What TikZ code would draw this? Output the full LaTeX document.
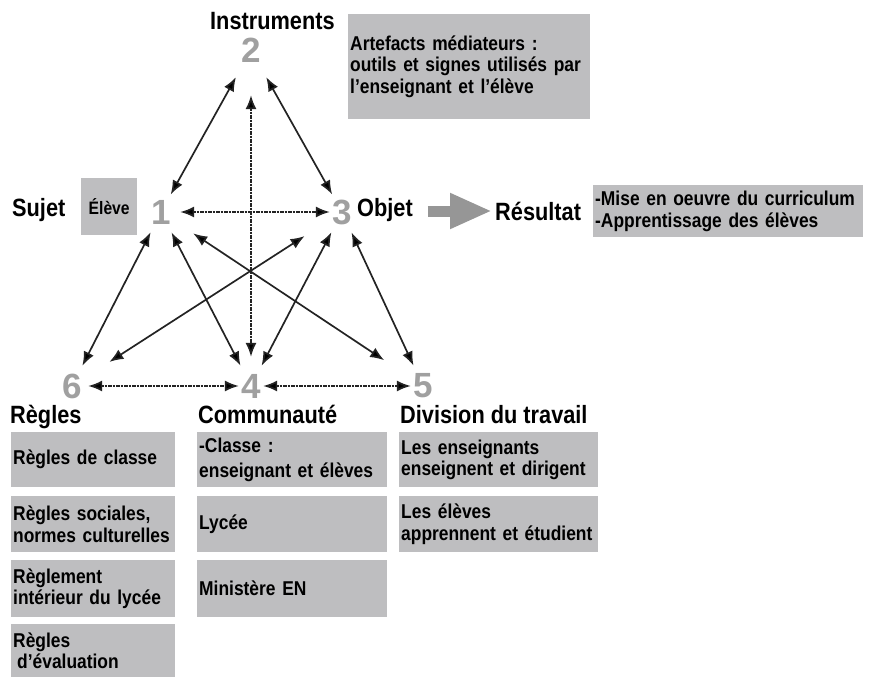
\documentclass[tikz,border=0pt]{standalone}
\usepackage{fontspec}
\setmainfont{Liberation Sans}[FakeStretch=0.87]
\newfontfamily\numfont{Liberation Sans}
\usetikzlibrary{arrows.meta}
\definecolor{boxgray}{RGB}{190,190,192}
\definecolor{numgray}{RGB}{160,160,160}
\definecolor{linegray}{RGB}{35,35,35}
\definecolor{arrowgray}{RGB}{150,150,150}

\begin{document}
\begin{tikzpicture}[x=1pt,y=-1pt,
  num/.style={rectangle, inner sep=0pt, minimum width=24pt, minimum height=26pt,
    text=numgray, font=\numfont\fontsize{35}{35}\selectfont\bfseries},
  title/.style={anchor=base west, inner sep=0pt, font=\fontsize{25}{27}\selectfont\bfseries},
  box/.style={anchor=north west, fill=boxgray, inner xsep=2pt, inner ysep=0pt, align=left,
    font=\fontsize{20}{21.5}\selectfont\bfseries},
  link/.style={draw=linegray, line width=1.7pt, shorten <=8pt, shorten >=8pt,
    {Latex[length=14pt,width=11pt]}-{Latex[length=14pt,width=11pt]}},
  dotlink/.style={link, shorten <=0pt, shorten >=0pt, dash pattern=on 1.2pt off 0.4pt},
  bigarrow/.style={arrowgray, line width=11pt, -{Triangle[length=42pt,width=33pt]}}]
\useasboundingbox (0,0) rectangle (871,677);

% grey boxes
\node[box, text width=238pt, minimum height=105pt] (art) at (348,14)
  {Artefacts médiateurs :\\outils et signes utilisés par\\l’enseignant et l’élève};
\node[box, align=center, text width=52pt, minimum height=57pt,
  font=\fontsize{18}{20}\selectfont\bfseries] (eleve) at (81,178) {Élève\\[6pt]};
\node[box, text width=266pt, minimum height=52pt] (resbox) at (593,185)
  {-Mise en oeuvre du curriculum\\-Apprentissage des élèves};

\node[box, text width=160pt, minimum height=55pt] (r1) at (11,432) {Règles de classe};
\node[box, text width=160pt, minimum height=56pt] (r2) at (11,496) {Règles sociales,\\normes culturelles};
\node[box, text width=160pt, minimum height=57pt] (r3) at (11,560) {Règlement\\intérieur du lycée};
\node[box, text width=160pt, minimum height=53pt] (r4) at (11,624) {Règles\\\hspace*{4pt}d’évaluation};

\node[box, text width=186pt, minimum height=55pt] (c1) at (197,432) {-Classe :\\[3pt]enseignant et élèves};
\node[box, text width=186pt, minimum height=56pt] (c2) at (197,496) {Lycée};
\node[box, text width=186pt, minimum height=57pt] (c3) at (197,560) {Ministère EN};

\node[box, text width=195pt, minimum height=55pt] (d1) at (399,432) {Les enseignants\\enseignent et dirigent};
\node[box, text width=195pt, minimum height=56pt] (d2) at (399,496) {Les élèves\\apprennent et étudient};

% titles
\node[title] (instr) at (210,30) {Instruments};
\node[title] (sujet) at (12,216) {Sujet};
\node[title] (objet) at (357,216) {Objet};
\node[title] (result) at (495,220) {Résultat};
\node[title] (regles) at (10,423) {Règles};
\node[title] (commu) at (198,423) {Communauté};
\node[title] (divis) at (400,423) {Division du travail};

% poles
\node[num] (n2) at (251,50) {2};
\node[num] (n1) at (161,212) {1};
\node[num] (n3) at (342,212) {3};
\node[num] (n6) at (72,386) {6};
\node[num] (n4) at (251,386) {4};
\node[num] (n5) at (423,386) {5};

\draw[link]
  (n2) edge[shorten <=16pt, shorten >=5pt] (n1)
  (n2) edge[shorten <=16pt, shorten >=5pt] (n3)
  (n1) edge (n6)
  (n1) edge (n4)
  (n1) edge[shorten <=24pt, shorten >=32pt] (n5)
  (n3) edge[shorten <=30pt, shorten >=30pt] (n6)
  (n3) edge (n4)
  (n3) edge (n5);
\draw[dotlink]
  (n2) edge[shorten <=32pt, shorten >=16pt] (n4)
  (n1) edge[shorten <=7pt] (n3)
  (n6) edge[shorten <=4pt] (n4)
  (n4) edge (n5);

\path (objet.base east) ++(15,-5) coordinate (ra);
\draw[bigarrow, shorten >=3pt] (ra) -- (ra -| result.west);
\end{tikzpicture}
\end{document}
